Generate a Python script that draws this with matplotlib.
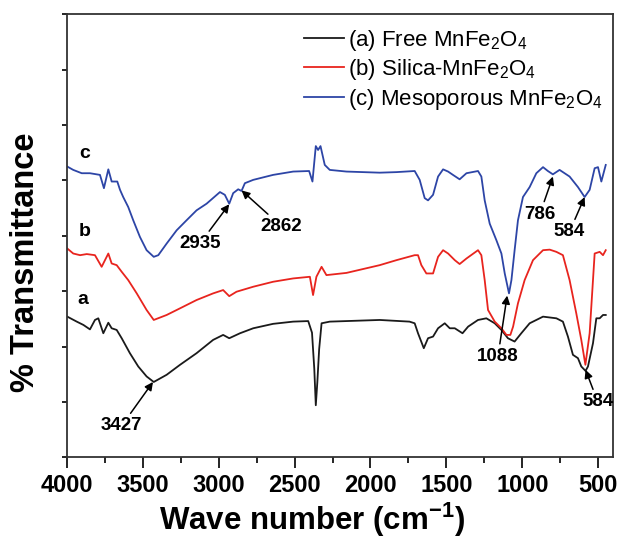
import matplotlib
matplotlib.use("Agg")
import matplotlib.pyplot as plt
import numpy as np

plt.rcParams['font.family'] = ['Liberation Sans', 'DejaVu Sans']
plt.rcParams['mathtext.default'] = 'regular'

# (a) Free MnFe2O4 -- wavenumber (cm-1) and offset transmittance (a.u.)
wn_a = [3996, 3934, 3890, 3847, 3814, 3792, 3759, 3726, 3704, 3671, 3638, 3584, 3529, 3474,
        3427, 3342, 3254, 3145, 3036, 2970, 2930, 2859, 2772, 2641, 2509, 2410, 2385, 2370,
        2360, 2350, 2338, 2322, 2268, 1939, 1743, 1709, 1687, 1649, 1621, 1588, 1555, 1511,
        1478, 1445, 1394, 1357, 1292, 1237, 1182, 1138, 1095, 1051, 1007, 952, 864, 776,
        733, 700, 667, 634, 612, 584, 568, 535, 513, 491, 469, 451]
tr_a = [2.54, 2.45, 2.39, 2.31, 2.48, 2.51, 2.24, 2.43, 2.33, 2.30, 2.15, 1.88, 1.64, 1.46,
        1.36, 1.49, 1.67, 1.88, 2.12, 2.21, 2.15, 2.24, 2.33, 2.41, 2.45, 2.46, 2.25, 1.60,
        0.94, 1.35, 1.95, 2.42, 2.45, 2.48, 2.45, 2.42, 2.24, 1.97, 2.15, 2.18, 2.33, 2.42,
        2.33, 2.33, 2.24, 2.36, 2.48, 2.51, 2.42, 2.30, 2.15, 2.09, 2.24, 2.42, 2.54, 2.51,
        2.45, 2.18, 1.85, 1.79, 1.64, 1.56, 1.64, 2.06, 2.51, 2.51, 2.57, 2.57]

# (b) Silica-MnFe2O4
wn_b = [3996, 3957, 3912, 3868, 3814, 3770, 3726, 3704, 3671, 3638, 3595, 3539, 3474, 3427,
        3342, 3254, 3145, 3036, 2970, 2930, 2882, 2772, 2641, 2509, 2399, 2378, 2356, 2322,
        2290, 2158, 1939, 1829, 1709, 1687, 1665, 1632, 1588, 1555, 1522, 1489, 1445, 1413,
        1368, 1292, 1270, 1248, 1226, 1182, 1138, 1105, 1079, 1061, 1029, 985, 930, 864,
        820, 776, 733, 689, 645, 612, 585, 557, 524, 491, 469, 451]
tr_b = [3.77, 3.68, 3.65, 3.67, 3.65, 3.44, 3.68, 3.50, 3.47, 3.35, 3.20, 2.96, 2.66, 2.48,
        2.57, 2.69, 2.84, 2.96, 3.02, 2.91, 2.99, 3.08, 3.17, 3.23, 3.26, 2.93, 3.26, 3.44,
        3.29, 3.33, 3.47, 3.56, 3.65, 3.65, 3.47, 3.32, 3.32, 3.62, 3.74, 3.68, 3.56, 3.49,
        3.59, 3.74, 3.65, 3.20, 2.66, 2.45, 2.33, 2.21, 2.21, 2.36, 2.78, 3.20, 3.56, 3.74,
        3.75, 3.71, 3.65, 3.20, 2.60, 2.12, 1.67, 2.24, 3.68, 3.71, 3.65, 3.74]

# (c) Mesoporous MnFe2O4
wn_c = [3996, 3957, 3901, 3847, 3781, 3755, 3726, 3704, 3667, 3649, 3628, 3595, 3562, 3518,
        3474, 3427, 3397, 3342, 3276, 3211, 3145, 3079, 2991, 2959, 2930, 2904, 2871, 2849,
        2827, 2772, 2641, 2509, 2404, 2382, 2360, 2345, 2329, 2301, 2268, 2158, 1939, 1829,
        1709, 1676, 1643, 1621, 1588, 1555, 1522, 1489, 1457, 1413, 1368, 1292, 1270, 1248,
        1215, 1171, 1138, 1116, 1088, 1072, 1051, 1029, 996, 952, 908, 864, 832, 799,
        755, 689, 634, 590, 557, 524, 502, 480, 451]
tr_c = [5.25, 5.19, 5.13, 5.13, 5.10, 4.86, 5.20, 4.98, 4.98, 4.83, 4.70, 4.52, 4.28, 3.98,
        3.74, 3.62, 3.65, 3.86, 4.10, 4.28, 4.46, 4.58, 4.79, 4.74, 4.58, 4.77, 4.84, 4.81,
        4.95, 5.01, 5.10, 5.16, 5.17, 4.98, 5.62, 5.55, 5.62, 5.28, 5.19, 5.16, 5.14, 5.15,
        5.17, 5.01, 4.68, 4.64, 4.74, 5.07, 5.20, 5.16, 5.10, 5.02, 5.13, 5.17, 5.07, 4.64,
        4.22, 3.92, 3.68, 3.32, 2.96, 3.20, 3.74, 4.28, 4.70, 4.88, 5.13, 5.24, 5.17, 5.11,
        5.19, 5.07, 4.88, 4.70, 4.83, 5.22, 5.24, 4.98, 5.28]

labels = [r'(a) Free MnFe$_2$O$_4$', r'(b) Silica-MnFe$_2$O$_4$',
          r'(c) Mesoporous MnFe$_2$O$_4$']
colors = ['#1a1a1a', '#e8241e', '#2d45a6']

# peak annotations: text, (wn, y) target, (wn, y) text position
peaks = [('3427', (3432, 1.36), (3638, 0.57)),
         ('2935', (2930, 4.57), (3123, 3.86)),
         ('2862', (2849, 4.82), (2586, 4.17)),
         ('1088', (1100, 2.92), (1161, 1.82)),
         ('786', (799, 5.07), (885, 4.39)),
         ('584', (590, 4.70), (690, 4.07)),
         ('584', (584, 1.58), (503, 1.00))]

fig = plt.figure(figsize=(6.2, 5.42), dpi=100)
ax = fig.add_axes([0.1076, 0.1563, 0.8819, 0.8173])

ax.plot(wn_a, tr_a, color=colors[0], lw=1.3, label=labels[0])
ax.plot(wn_b, tr_b, color=colors[1], lw=1.3, label=labels[1])
ax.plot(wn_c, tr_c, color=colors[2], lw=1.3, label=labels[2])

ax.set_xlim(4000, 400)
ax.set_ylim(0, 8)
ax.set_xticks(np.arange(4000, 499, -500))
ax.set_xticks(np.arange(3750, 400, -500), minor=True)
ax.set_yticks(np.arange(0, 9, 1))
ax.set_yticklabels([])
ax.tick_params(axis='x', which='major', direction='out', length=8, width=1.2,
               labelsize=17, pad=4)
ax.tick_params(axis='x', which='minor', direction='out', length=4.5, width=1.2)
ax.tick_params(axis='y', direction='out', length=3.5, width=1.2)
for lab in ax.get_xticklabels():
    lab.set_fontweight('bold')
for sp in ax.spines.values():
    sp.set_linewidth(1.3)
    sp.set_color('#333333')

ax.set_xlabel(r'Wave number (cm$^{-1}$)', fontsize=22.5, fontweight='bold', labelpad=3)
ax.xaxis.label.set_x(0.449)
ax.set_ylabel('% Transmittance', fontsize=23.5, fontweight='bold', labelpad=11.5)
ax.yaxis.label.set_y(0.441)

ax.text(3880, 5.49, 'c', fontsize=14, fontweight='bold', ha='center', va='center')
ax.text(3880, 4.07, 'b', fontsize=14, fontweight='bold', ha='center', va='center')
ax.text(3895, 2.85, 'a', fontsize=14, fontweight='bold', ha='center', va='center')

for txt, xy, xyt in peaks:
    ax.annotate(txt, xy=xy, xytext=xyt, fontsize=13.5, fontweight='bold',
                ha='center', va='center',
                arrowprops=dict(arrowstyle='-|>', color='black', lw=1.1,
                                mutation_scale=12, shrinkA=1, shrinkB=0))

ax.legend(loc='upper right', bbox_to_anchor=(1.0, 0.995), frameon=False,
          fontsize=16, handlelength=1.8, handletextpad=0.15, labelspacing=0.2,
          borderaxespad=0.1)

fig.savefig('out.png', dpi=100)
